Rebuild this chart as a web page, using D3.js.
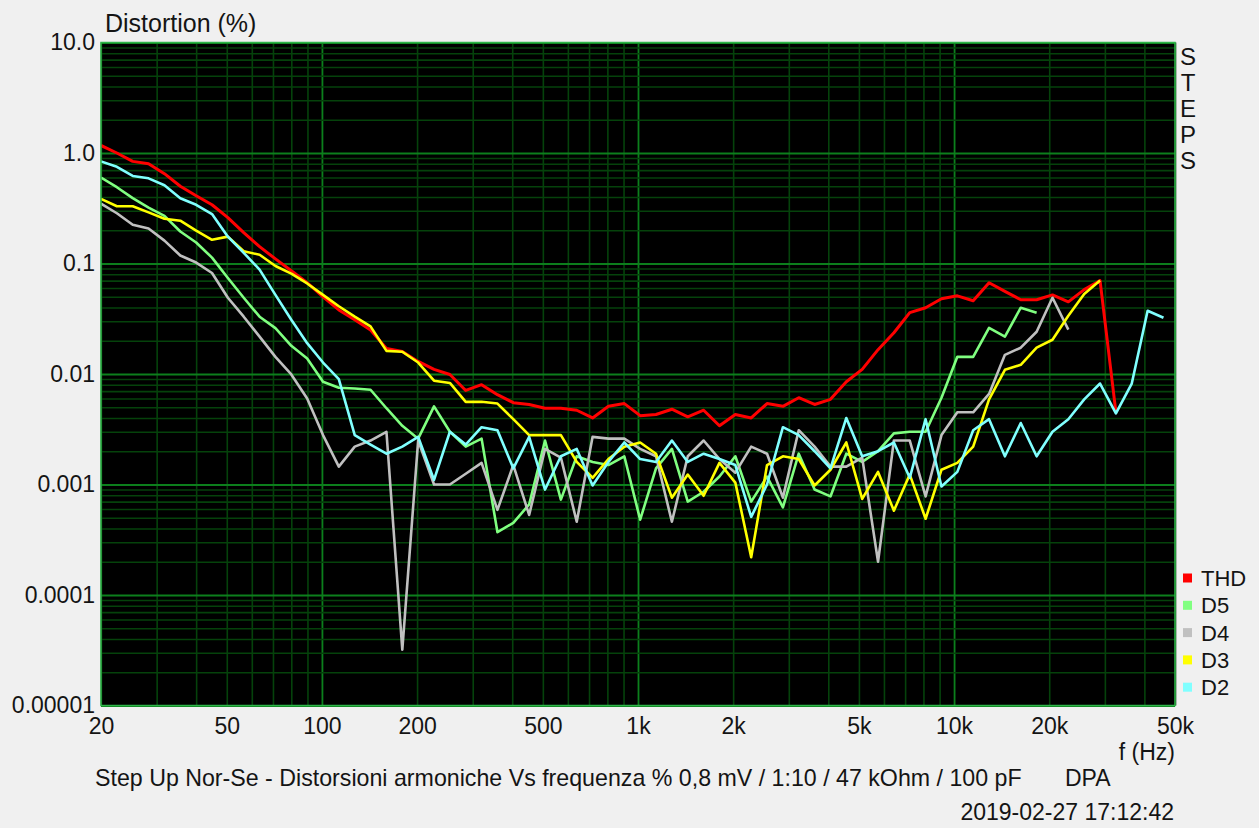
<!DOCTYPE html>
<html>
<head>
<meta charset="utf-8">
<script src="https://cdn.jsdelivr.net/npm/d3@7"></script>
<style>
  html, body { margin: 0; padding: 0; background: #f0f0f0; }
  svg { display: block; font-family: "Liberation Sans", Arial, sans-serif; }
  text { fill: #141414; }
</style>
</head>
<body>
<div id="chart"></div>
<script>
// 1/6 octave measurement points (Hz)
var freqs = [20, 22.45, 25.2, 28.28, 31.75, 35.64, 40, 44.9, 50.4, 56.57,
    63.5, 71.27, 80, 89.8, 100.8, 113.1, 127, 142.5, 160, 179.6,
    201.6, 226.3, 254, 285.1, 320, 359.2, 403.2, 452.5, 508, 570.2,
    640, 718.4, 806.3, 905.1, 1016, 1140, 1280, 1437, 1613, 1810,
    2032, 2281, 2560, 2874, 3225, 3620, 4064, 4561, 5120, 5747,
    6451, 7241, 8127, 9123, 10240, 11494, 12902, 14482, 16255, 18246,
    20480, 22988, 25803, 28963, 32510, 36491, 40960, 45976];

// distortion in %, one value per frequency (series stop where the trace stops)
var thd = [1.17, 1.0, 0.84, 0.80, 0.65, 0.50, 0.41, 0.34, 0.26, 0.19,
    0.142, 0.11, 0.086, 0.067, 0.050, 0.038, 0.031, 0.025, 0.017, 0.016,
    0.013, 0.011, 0.0099, 0.0071, 0.0080, 0.0065, 0.0055, 0.0053, 0.0049, 0.0049,
    0.0047, 0.0040, 0.0051, 0.0054, 0.0042, 0.0043, 0.0048, 0.0041, 0.0047, 0.0034,
    0.0043, 0.0040, 0.0054, 0.0051, 0.0061, 0.0053, 0.0059, 0.0085, 0.011, 0.0166,
    0.0236, 0.0359, 0.0398, 0.048, 0.051, 0.046, 0.067, 0.056, 0.047, 0.047,
    0.052, 0.045, 0.058, 0.070, 0.0045];

var d5 = [0.60, 0.49, 0.39, 0.32, 0.27, 0.195, 0.155, 0.113, 0.074, 0.049,
    0.033, 0.026, 0.018, 0.0138, 0.0085, 0.0075, 0.0074, 0.0072, 0.0049, 0.0034,
    0.0026, 0.0051, 0.0030, 0.0022, 0.0026, 0.00037, 0.00045, 0.00066, 0.0025, 0.00073,
    0.0018, 0.0016, 0.0015, 0.0018, 0.00048, 0.0014, 0.0021, 0.00070, 0.00086, 0.00118,
    0.0018, 0.00070, 0.00118, 0.00062, 0.0019, 0.00090, 0.00078, 0.0019, 0.0016, 0.0020,
    0.0029, 0.0030, 0.0030, 0.0061, 0.0143, 0.0143, 0.0262, 0.0218, 0.0398, 0.0359];

var d4 = [0.348, 0.285, 0.224, 0.207, 0.161, 0.118, 0.102, 0.082, 0.049, 0.033,
    0.0218, 0.0143, 0.0099, 0.0060, 0.0028, 0.00145, 0.0022, 0.0025, 0.0030, 0.000032,
    0.0025, 0.0010, 0.0010, 0.00125, 0.00157, 0.00059, 0.0015, 0.00053, 0.0021, 0.00175,
    0.00046, 0.0027, 0.0026, 0.0026, 0.0021, 0.0018, 0.00046, 0.0018, 0.0025, 0.0017,
    0.00128, 0.0022, 0.0019, 0.00076, 0.0031, 0.0022, 0.00145, 0.00145, 0.00175, 0.00020,
    0.0025, 0.0025, 0.00078, 0.0028, 0.0045, 0.0045, 0.0066, 0.0149, 0.0173, 0.0241,
    0.049, 0.0252];

var d3v = [0.385, 0.33, 0.33, 0.29, 0.254, 0.244, 0.198, 0.164, 0.175, 0.129,
    0.120, 0.095, 0.081, 0.066, 0.052, 0.041, 0.033, 0.027, 0.0162, 0.0159,
    0.0127, 0.0087, 0.0083, 0.0056, 0.0056, 0.0054, 0.0039, 0.0028, 0.0028, 0.0028,
    0.0016, 0.00115, 0.0017, 0.0022, 0.0024, 0.0019, 0.00076, 0.00123, 0.00079, 0.00157,
    0.00104, 0.00022, 0.0015, 0.0018, 0.0017, 0.00098, 0.00136, 0.0024, 0.00074, 0.0013,
    0.00058, 0.00123, 0.00049, 0.00136, 0.00157, 0.0022, 0.0059, 0.0109, 0.0121, 0.0173,
    0.0204, 0.0337, 0.053, 0.070];

var d2 = [0.84, 0.75, 0.62, 0.59, 0.51, 0.39, 0.34, 0.28, 0.175, 0.125,
    0.088, 0.052, 0.031, 0.019, 0.0127, 0.0090, 0.0028, 0.0023, 0.0019, 0.0022,
    0.0027, 0.0011, 0.0030, 0.0023, 0.0033, 0.0031, 0.0014, 0.0027, 0.00090, 0.0018,
    0.0021, 0.00098, 0.0016, 0.0024, 0.0017, 0.0016, 0.0025, 0.0016, 0.0019, 0.0017,
    0.0015, 0.00051, 0.0010, 0.0033, 0.0028, 0.0020, 0.0014, 0.0040, 0.0018, 0.0020,
    0.0024, 0.00115, 0.0039, 0.00096, 0.0013, 0.0031, 0.0039, 0.0018, 0.0036, 0.0018,
    0.0030, 0.0039, 0.0059, 0.0082, 0.0044, 0.0082, 0.0374, 0.0323];

var seriesNames = ["THD", "D5", "D4", "D3", "D2"];
var seriesColors = ["#ff0000", "#80ff80", "#c0c0c0", "#ffff00", "#80ffff"];
var seriesValues = [thd, d5, d4, d3v, d2];

var xTicks = [20, 50, 100, 200, 500, 1000, 2000, 5000, 10000, 20000, 50000];
var xTickLabels = ["20", "50", "100", "200", "500", "1k", "2k", "5k", "10k", "20k", "50k"];
var yTicks = [10, 1, 0.1, 0.01, 0.001, 0.0001, 0.00001];
var yTickLabels = ["10.0", "1.0", "0.1", "0.01", "0.001", "0.0001", "0.00001"];

var W = 1259, H = 828;
var margin = { top: 42.5, left: 101, right: 84, bottom: 122.5 };
var width = W - margin.left - margin.right;
var height = H - margin.top - margin.bottom;
var font = "'Liberation Sans', Arial, sans-serif";

var svg = d3.select("#chart").append("svg")
    .attr("width", W)
    .attr("height", H);

var x = d3.scaleLog().domain([20, 50000]).range([0, width]);
var y = d3.scaleLog().domain([0.00001, 10]).range([height, 0]);

var g = svg.append("g")
    .attr("transform", "translate(" + margin.left + "," + margin.top + ")");

g.append("rect")
    .attr("width", width)
    .attr("height", height)
    .style("fill", "#000");

function isDecade(v) {
    var l = Math.log10(v);
    return Math.abs(l - Math.round(l)) < 1e-6;
}

// grid
var xGrid = g.append("g")
    .attr("class", "grid x")
    .attr("transform", "translate(0," + height + ")")
    .call(d3.axisBottom(x).tickValues(x.ticks()).tickSize(-height).tickFormat(""));
var yGrid = g.append("g")
    .attr("class", "grid y")
    .call(d3.axisLeft(y).tickValues(y.ticks()).tickSize(-width).tickFormat(""));

[xGrid, yGrid].forEach(function (a) {
    a.select(".domain").remove();
    a.selectAll("line")
        .style("stroke", function (d) { return isDecade(d) ? "#0c7f1c" : "#05420b"; })
        .style("stroke-width", function (d) { return isDecade(d) ? 1.8 : 1.6; });
});

// curves
var line = d3.line()
    .x(function (d) { return x(d.f); })
    .y(function (d) { return y(d.v); });

g.append("clipPath").attr("id", "plotclip")
    .append("rect").attr("width", width).attr("height", height);

seriesValues.forEach(function (vals, i) {
    var pts = vals.map(function (v, k) { return { f: freqs[k], v: v }; });
    g.append("path")
        .datum(pts)
        .attr("clip-path", "url(#plotclip)")
        .attr("d", line)
        .style("fill", "none")
        .style("stroke", seriesColors[i])
        .style("stroke-width", i == 0 ? 3 : 2.6)
        .style("stroke-linejoin", "round");
});

// frame
g.append("rect")
    .attr("width", width)
    .attr("height", height)
    .style("fill", "none")
    .style("stroke", "#2fb54a")
    .style("stroke-width", 1.5);

// axes labels
var xAxis = g.append("g")
    .attr("transform", "translate(0," + height + ")")
    .call(d3.axisBottom(x).tickValues(xTicks).tickSize(0).tickPadding(12)
        .tickFormat(function (d, i) { return xTickLabels[i]; }));
xAxis.select(".domain").remove();
xAxis.selectAll("text")
    .style("font-size", "23px")
    .style("font-family", font)
    .style("fill", "#141414");

var yAxis = g.append("g")
    .call(d3.axisLeft(y).tickValues(yTicks).tickSize(0).tickPadding(6)
        .tickFormat(function (d, i) { return yTickLabels[i]; }));
yAxis.select(".domain").remove();
yAxis.selectAll("text")
    .style("font-size", "23px")
    .style("font-family", font)
    .style("fill", "#141414");

svg.append("text")
    .attr("x", 105)
    .attr("y", 32)
    .style("font-size", "25px")
    .text("Distortion (%)");

// STEPS written vertically
var steps = "STEPS".split("");
svg.selectAll("text.steps")
    .data(steps)
    .enter()
    .append("text")
    .attr("class", "steps")
    .attr("x", 1188)
    .attr("y", function (d, i) { return 65 + i * 26; })
    .attr("text-anchor", "middle")
    .style("font-size", "24px")
    .text(function (d) { return d; });

// legend
var legend = svg.selectAll(".legend")
    .data(seriesNames)
    .enter()
    .append("g")
    .attr("class", "legend")
    .attr("transform", function (d, i) { return "translate(1183," + (578 + i * 27.3) + ")"; });

legend.append("rect")
    .attr("x", 0)
    .attr("y", -4.5)
    .attr("width", 9)
    .attr("height", 9)
    .style("fill", function (d, i) { return seriesColors[i]; });

legend.append("text")
    .attr("x", 18)
    .attr("y", 8)
    .style("font-size", "22px")
    .text(function (d) { return d; });

svg.append("text")
    .attr("x", 1175)
    .attr("y", 760)
    .attr("text-anchor", "end")
    .style("font-size", "23px")
    .text("f (Hz)");

svg.append("text")
    .attr("x", 95)
    .attr("y", 786)
    .style("font-size", "23.2px")
    .text("Step Up Nor-Se - Distorsioni armoniche Vs frequenza % 0,8 mV / 1:10 / 47 kOhm / 100 pF");

svg.append("text")
    .attr("x", 1065)
    .attr("y", 786)
    .style("font-size", "23px")
    .text("DPA");

svg.append("text")
    .attr("x", 1174)
    .attr("y", 820)
    .attr("text-anchor", "end")
    .style("font-size", "23px")
    .text("2019-02-27 17:12:42");
</script>
</body>
</html>
